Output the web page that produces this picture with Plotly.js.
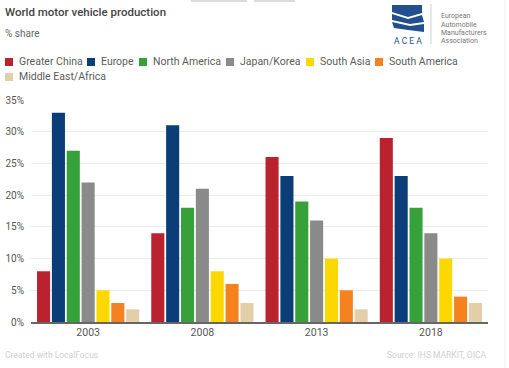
<!DOCTYPE html>
<html>
<head>
<meta charset="utf-8">
<script src="https://cdn.plot.ly/plotly-3.0.1.min.js"></script>
<style>
  html, body { margin: 0; padding: 0; background: #fff; }
  #chart { width: 509px; height: 368px; }
</style>
</head>
<body>
<div id="chart"></div>
<script>
// ---- Data ----
const years = ['2003', '2008', '2013', '2018'];
const seriesNames = ['Greater China', 'Europe', 'North America', 'Japan/Korea', 'South Asia', 'South America', 'Middle East/Africa'];
const greaterChina = [8, 14, 26, 29];
const europe = [33, 31, 23, 23];
const northAmerica = [27, 18, 19, 18];
const japanKorea = [22, 21, 16, 14];
const southAsia = [5, 8, 10, 10];
const southAmerica = [3, 6, 5, 4];
const middleEastAfrica = [2, 3, 2, 3];
const yTicks = [0, 5, 10, 15, 20, 25, 30, 35];

const seriesValues = [greaterChina, europe, northAmerica, japanKorea, southAsia, southAmerica, middleEastAfrica];
const colors = ['#bb2230', '#0b3e79', '#36a138', '#8a8a8a', '#fdd700', '#f5821f', '#e2cfaa'];

// ---- Layout helpers (pixel -> paper) ----
const W = 509, H = 368;
const M = { l: 31, r: 21, t: 100, b: 46 };
const PW = W - M.l - M.r, PH = H - M.t - M.b;
const px = x => (x - M.l) / PW;
const py = y => (H - M.b - y) / PH;

const traces = seriesNames.map((name, i) => ({
  type: 'bar',
  name: name,
  x: years,
  y: seriesValues[i],
  marker: { color: colors[i] },
  hoverinfo: 'skip',
  showlegend: false
}));

const annotations = [];
const shapes = [];

// Title & subtitle
annotations.push({ text: 'World motor vehicle production', xref: 'paper', yref: 'paper', x: px(3), y: py(12), xanchor: 'left', yanchor: 'middle', showarrow: false, font: { family: 'Roboto', size: 11.5, color: '#444', weight: 500 } });
annotations.push({ text: '% share', xref: 'paper', yref: 'paper', x: px(3), y: py(34), xanchor: 'left', yanchor: 'middle', showarrow: false, font: { family: 'Roboto', size: 10, color: '#666' } });

// Legend (custom)
const legendPos = [[5, 62], [87, 62], [139, 62], [226, 62], [306, 62], [375, 62], [5, 77]];
seriesNames.forEach((name, i) => {
  const [lx, ly] = legendPos[i];
  shapes.push({ type: 'rect', xref: 'paper', yref: 'paper', x0: px(lx), x1: px(lx + 8), y0: py(ly + 4), y1: py(ly - 4), fillcolor: colors[i], line: { width: 0 } });
  annotations.push({ text: name, xref: 'paper', yref: 'paper', x: px(lx + 12), y: py(ly), xanchor: 'left', yanchor: 'middle', showarrow: false, font: { family: 'Roboto', size: 10.5, color: '#5c5c5c' } });
});

// Footer
annotations.push({ text: 'Created with LocalFocus', xref: 'paper', yref: 'paper', x: px(3), y: py(355), xanchor: 'left', yanchor: 'middle', showarrow: false, font: { family: 'Roboto', size: 8.5, color: '#cfcfcf' } });
annotations.push({ text: 'Source: IHS MARKIT, OICA', xref: 'paper', yref: 'paper', x: px(488), y: py(355), xanchor: 'right', yanchor: 'middle', showarrow: false, font: { family: 'Roboto', size: 8.5, color: '#cfcfcf' } });

// ACEA logo
const logoBlue = '#22508f';
function pathPx(pts) {
  return 'M' + pts.map(p => px(p[0]) + ',' + py(p[1])).join(' L') + ' Z';
}
shapes.push({ type: 'path', xref: 'paper', yref: 'paper', path: pathPx([[392, 5], [422, 5], [422, 13], [408, 17], [392, 12]]), fillcolor: logoBlue, line: { width: 0 } });
shapes.push({ type: 'path', xref: 'paper', yref: 'paper', path: pathPx([[392, 14], [408, 19], [422, 15], [424, 22], [410, 24], [392, 20]]), fillcolor: logoBlue, line: { width: 0 } });
shapes.push({ type: 'path', xref: 'paper', yref: 'paper', path: pathPx([[392, 22], [410, 26], [424, 24], [424, 32], [408, 30], [394, 28]]), fillcolor: logoBlue, line: { width: 0 } });
annotations.push({ text: 'A C E A', xref: 'paper', yref: 'paper', x: px(408), y: py(41), xanchor: 'center', yanchor: 'middle', showarrow: false, font: { family: 'Roboto', size: 8.5, color: logoBlue } });
shapes.push({ type: 'line', xref: 'paper', yref: 'paper', x0: px(431), x1: px(431), y0: py(4), y1: py(44), line: { color: '#cfcfcf', width: 1 } });
['European', 'Automobile', 'Manufacturers', 'Association'].forEach((t, i) => {
  annotations.push({ text: t, xref: 'paper', yref: 'paper', x: px(439), y: py(16 + i * 8.5), xanchor: 'left', yanchor: 'middle', showarrow: false, font: { family: 'Roboto', size: 7, color: '#777' } });
});

// decorative top tabs and right edge
shapes.push({ type: 'rect', xref: 'paper', yref: 'paper', x0: px(191), x1: px(247), y0: py(2), y1: py(-2), fillcolor: '#dcdcdc', line: { width: 0 }, layer: 'below' });
shapes.push({ type: 'rect', xref: 'paper', yref: 'paper', x0: px(254), x1: px(295), y0: py(2), y1: py(-2), fillcolor: '#dcdcdc', line: { width: 0 }, layer: 'below' });
shapes.push({ type: 'line', xref: 'paper', yref: 'paper', x0: px(505), x1: px(505), y0: py(0), y1: py(368), line: { color: '#f0f0f0', width: 1 } });

const layout = {
  width: W, height: H,
  margin: M,
  paper_bgcolor: '#fff',
  plot_bgcolor: '#fff',
  barmode: 'group',
  bargap: 0.09,
  bargroupgap: 0.12,
  font: { family: 'Roboto', color: '#555' },
  xaxis: {
    type: 'category',
    showline: true, linecolor: '#666', linewidth: 1.5,
    showgrid: false, ticks: '',
    tickfont: { family: 'Roboto', size: 10.5, color: '#555' },
    fixedrange: true
  },
  yaxis: {
    range: [0, 35],
    tickvals: yTicks,
    ticktext: yTicks.map(v => v + '%'),
    showgrid: true, gridcolor: '#ececec', gridwidth: 1,
    zeroline: false, showline: false, ticks: '',
    ticklabelstandoff: 6,
    tickfont: { family: 'Roboto', size: 10, color: '#555' },
    fixedrange: true
  },
  annotations: annotations,
  shapes: shapes
};

Plotly.newPlot('chart', traces, layout, { displayModeBar: false, staticPlot: true });
</script>
</body>
</html>
